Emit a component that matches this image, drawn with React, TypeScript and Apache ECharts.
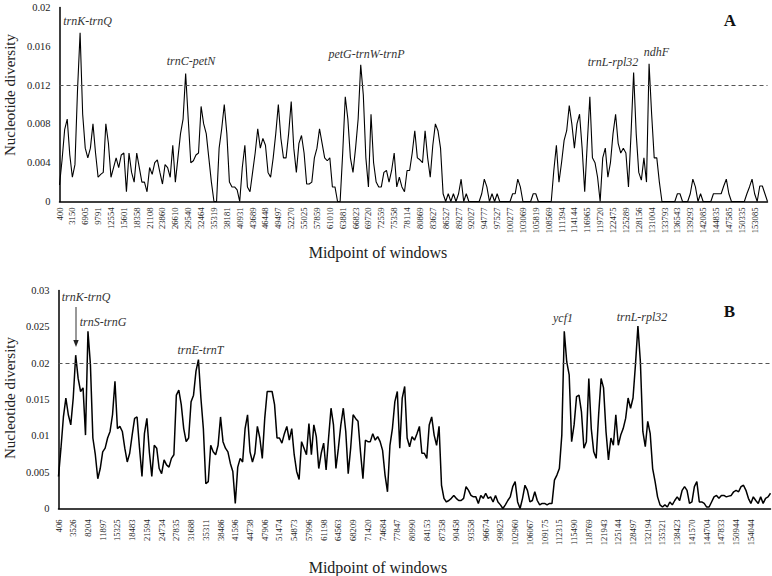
import React, { useEffect, useRef } from "react";
import * as echarts from "echarts";

const ticksA = ["400","3150","6905","9791","12554","15601","18358","21108","23860","26610","29540","32464","35319","38181","40931","43689","46448","49497","52270","55025","57859","61010","63881","66823","69720","72559","75358","78114","80869","83627","86527","89277","92027","94777","97527","100277","103069","105819","108569","111394","114144","116965","119720","122475","125289","128156","131004","133793","136543","139293","142085","144835","147585","150335","153085"];

const ticksB = ["406","3526","8204","11897","15325","18483","21594","24734","27835","31688","35311","38486","41596","44738","47906","51474","54873","57996","61198","64563","68209","71420","74684","77847","80990","84153","87358","90458","93558","96674","99825","102960","106067","109175","112315","115490","118769","121943","125144","128497","132194","135321","138423","141570","144704","147833","150944","154044"];

// samples per labelled interval
const stepA = 5;
const stepB = 6;

const diversityA = [
0.0017,0.0043,0.0074,0.0085,0.0048,
0.0025,0.0038,0.0115,0.0174,0.0090,
0.0055,0.0045,0.0055,0.0080,0.0050,
0.0025,0.0028,0.0030,0.0080,0.0060,
0.0025,0.0035,0.0045,0.0035,0.0048,
0.0050,0.0010,0.0050,0.0030,0.0020,
0.0050,0.0035,0.0020,0.0020,0.0010,
0.0035,0.0028,0.0040,0.0043,0.0030,
0.0018,0.0038,0.0035,0.0025,0.0058,
0.0020,0.0045,0.0070,0.0085,0.0132,
0.0085,0.0040,0.0042,0.0048,0.0050,
0.0098,0.0080,0.0070,0.0045,0.0020,
0,0,0.0055,0.0075,0.0100,
0.0070,0.0020,0.0015,0.0015,0.0012,
0,0.0035,0.0058,0.0015,0.0010,
0.0030,0.0050,0.0075,0.0055,0.0065,
0.0058,0.0030,0.0025,0.0045,0.0070,
0.0100,0.0065,0.0045,0.0045,0.0070,
0.0103,0.0055,0.0030,0.0060,0.0068,
0.0050,0.0018,0.0018,0.0020,0.0045,
0.0055,0.0075,0.0060,0.0045,0.0042,
0.0045,0.0015,0.0015,0,0,
0.0050,0.0108,0.0085,0.0045,0.0030,
0.0055,0.0085,0.0141,0.0110,0.0045,
0.0015,0.0090,0.0040,0.0020,0.0015,
0.0015,0.0030,0.0032,0.0020,0.0032,
0.0050,0.0015,0.0025,0.0015,0.0010,
0.0032,0.0032,0.0050,0.0073,0.0045,
0.0043,0.0040,0.0073,0.0045,0.0025,
0.0058,0.0080,0.0073,0.0055,0.0008,
0,0.0008,0,0.0008,0,
0.0008,0.0023,0,0.0008,0,
0,0,0,0,0.0008,
0.0023,0.0015,0,0.0008,0,
0.0008,0,0,0,0,
0,0.0008,0.0008,0.0023,0.0015,
0,0,0,0,0.0008,
0.0008,0,0,0,0,
0,0,0.0032,0.0058,0.0020,
0.0040,0.0063,0.0073,0.0099,0.0080,
0.0055,0.0080,0.0090,0.0055,0.0010,
0.0060,0.0108,0.0045,0.0040,0.0025,
0,0.0045,0.0055,0.0025,0.0040,
0.0070,0.0090,0.0060,0.0050,0.0055,
0.0050,0.0015,0.0070,0.0133,0.0070,
0.0030,0.0022,0.0045,0.0020,0.0142,
0.0090,0.0045,0.0045,0.0020,0,
0,0,0,0,0,
0.0008,0.0008,0,0,0,
0.0008,0.0023,0.0015,0,0.0008,
0,0,0,0,0.0008,
0.0008,0.0008,0.0008,0.0016,0.0023,
0.0008,0,0,0,0,
0,0,0.0008,0.0015,0.0023,
0.0008,0,0.0016,0.0016,0.0008,
0
];

const diversityB = [
0.0044,0.0083,0.0126,0.0152,0.0129,0.0115,
0.0152,0.0211,0.0179,0.0161,0.0166,0.0101,
0.0244,0.0198,0.0097,0.0074,0.0041,0.0055,
0.0078,0.0083,0.0097,0.0106,0.0129,0.0175,
0.0110,0.0113,0.0106,0.0083,0.0064,0.0076,
0.0101,0.0124,0.0126,0.0083,0.0044,0.0103,
0.0124,0.0078,0.0044,0.0087,0.0083,0.0055,
0.0048,0.0067,0.0060,0.0057,0.0069,0.0074,
0.0156,0.0163,0.0143,0.0110,0.0092,0.0097,
0.0147,0.0156,0.0189,0.0205,0.0152,0.0110,
0.0034,0.0037,0.0087,0.0078,0.0074,0.0087,
0.0126,0.0092,0.0083,0.0078,0.0062,0.0051,
0.0007,0.0057,0.0069,0.0064,0.0110,0.0129,
0.0078,0.0064,0.0076,0.0113,0.0097,0.0069,
0.0124,0.0161,0.0161,0.0161,0.0143,0.0097,
0.0097,0.0090,0.0103,0.0113,0.0094,0.0110,
0.0074,0.0051,0.0040,0.0092,0.0083,0.0074,
0.0117,0.0074,0.0115,0.0099,0.0055,0.0076,
0.0090,0.0053,0.0097,0.0138,0.0115,0.0055,
0.0083,0.0115,0.0138,0.0106,0.0048,0.0083,
0.0129,0.0124,0.0120,0.0078,0.0041,0.0094,
0.0092,0.0092,0.0103,0.0094,0.0099,0.0092,
0.0080,0.0046,0.0023,0.0087,0.0110,0.0147,
0.0161,0.0083,0.0152,0.0168,0.0097,0.0085,
0.0099,0.0094,0.0103,0.0113,0.0076,0.0076,
0.0069,0.0115,0.0126,0.0101,0.0087,0.0113,
0.0032,0.0014,0.0009,0.0011,0.0014,0.0018,
0.0014,0.0011,0.0011,0.0014,0.0030,0.0025,
0.0018,0.0016,0.0016,0.0007,0.0018,0.0014,
0.0021,0.0014,0.0016,0.0009,0.0018,0.0009,
0.0005,0,0.0005,0.0011,0.0016,0.0030,
0.0037,0.0009,0,0.0014,0.0032,0.0025,
0.0009,0.0011,0.0023,0.0011,0.0005,0.0007,
0.0007,0.0005,0.0007,0.0007,0.0039,0.0046,
0.0055,0.0101,0.0244,0.0202,0.0184,0.0092,
0.0115,0.0154,0.0156,0.0133,0.0083,0.0092,
0.0179,0.0110,0.0078,0.0069,0.0129,0.0179,
0.0166,0.0106,0.0067,0.0097,0.0087,0.0129,
0.0087,0.0101,0.0110,0.0124,0.0152,0.0138,
0.0152,0.0198,0.0251,0.0202,0.0106,0.0085,
0.0120,0.0103,0.0055,0.0037,0.0016,0.0005,
0.0002,0.0005,0.0002,0.0009,0.0005,0.0011,
0.0016,0.0011,0.0025,0.0030,0.0025,0.0007,
0.0009,0.0030,0.0037,0.0009,0.0009,0.0007,
0.0002,0.0002,0.0009,0.0016,0.0018,0.0014,
0.0018,0.0018,0.0016,0.0017,0.0018,0.0023,
0.0025,0.0023,0.0030,0.0032,0.0025,0.0014,
0.0007,0.0016,0.0011,0.0007,0.0016,0.0007,
0.0014,0.0016,0.0021
];

const thresholdA = 0.012;
const thresholdB = 0.02;

const labelsA = [
  { text: "trnK-trnQ", x: 87.5, y: 21 },
  { text: "trnC-petN", x: 191, y: 61 },
  { text: "petG-trnW-trnP", x: 366.5, y: 54 },
  { text: "trnL-rpl32", x: 613, y: 62 },
  { text: "ndhF", x: 656.5, y: 52 },
];
const labelsB = [
  { text: "trnK-trnQ", x: 86, y: 297 },
  { text: "trnS-trnG", x: 103, y: 322 },
  { text: "trnE-trnT", x: 200.5, y: 350 },
  { text: "ycf1", x: 563, y: 318 },
  { text: "trnL-rpl32", x: 642, y: 317 },
];

const FONT = '"Liberation Serif", "Times New Roman", serif';

export default function App() {
  const ref = useRef<HTMLDivElement>(null);
  useEffect(() => {
    if (!ref.current) return;
    const chart = echarts.init(ref.current, null, { renderer: "svg" });
    const maxA = (diversityA.length - 1) / stepA;
    const maxB = (diversityB.length - 1) / stepB;
    const xAxisCommon = (ticks: string[], max: number, grid: number, margin: number) => ({
      type: "value",
      gridIndex: grid,
      min: 0,
      max,
      interval: 1,
      axisLine: { show: true, onZero: false, lineStyle: { color: "#000", width: 1.5 } },
      axisTick: { show: false },
      splitLine: { show: false },
      axisLabel: {
        rotate: 90,
        margin,
        fontSize: 8.6,
        color: "#222",
        fontFamily: FONT,
        showMinLabel: true,
        showMaxLabel: true,
        formatter: (v: number) => (Number.isInteger(v) ? ticks[v] ?? "" : ""),
      },
    });
    const yAxisCommon = (grid: number, max: number, interval: number) => ({
      type: "value",
      gridIndex: grid,
      min: 0,
      max,
      interval,
      axisLine: { show: true, lineStyle: { color: "#000", width: 1.5 } },
      axisTick: { show: false },
      splitLine: { show: false },
      axisLabel: { margin: 9, fontSize: 10.5, color: "#222", fontFamily: FONT },
    });
    const mkText = (t: { text: string; x: number; y: number }) => ({
      type: "text",
      x: t.x,
      y: t.y,
      style: {
        text: t.text,
        fontStyle: "italic",
        fontSize: 12,
        fontFamily: FONT,
        fill: "#333",
        textAlign: "center",
        textVerticalAlign: "middle",
      },
    });
    const plainText = (text: string, x: number, y: number, size: number, extra: any = {}) => ({
      type: "text",
      x,
      y,
      ...extra,
      style: {
        text,
        fontSize: size,
        fontFamily: FONT,
        fill: "#222",
        textAlign: "center",
        textVerticalAlign: "middle",
        ...(extra.style || {}),
      },
    });
    const markLine = (y: number) => ({
      silent: true,
      precision: 6,
      symbol: ["none", "none"],
      label: { show: false },
      lineStyle: { color: "#555", type: [4, 3], width: 1 },
      data: [{ yAxis: y }],
    });
    chart.setOption({
      animation: false,
      backgroundColor: "#fff",
      grid: [
        { left: 59.5, top: 7.5, width: 708, height: 194, outerBoundsMode: "none" },
        { left: 58.5, top: 290.5, width: 712, height: 218, outerBoundsMode: "none" },
      ],
      xAxis: [xAxisCommon(ticksA, maxA, 0, 6), xAxisCommon(ticksB, maxB, 1, 11)],
      yAxis: [yAxisCommon(0, 0.02, 0.004), yAxisCommon(1, 0.03, 0.005)],
      series: [
        {
          type: "line",
          xAxisIndex: 0,
          yAxisIndex: 0,
          data: diversityA.map((v, j) => [j / stepA, v]),
          showSymbol: false,
          symbol: "none",
          lineStyle: { color: "#000", width: 1.1 },
          markLine: markLine(thresholdA),
        },
        {
          type: "line",
          xAxisIndex: 1,
          yAxisIndex: 1,
          data: diversityB.map((v, j) => [j / stepB, v]),
          showSymbol: false,
          symbol: "none",
          lineStyle: { color: "#000", width: 1.5 },
          markLine: markLine(thresholdB),
        },
      ],
      graphic: [
        ...labelsA.map(mkText),
        ...labelsB.map(mkText),
        plainText("A", 730, 20, 17, { style: { fontWeight: "bold", fill: "#111" } }),
        plainText("B", 729.5, 311, 17, { style: { fontWeight: "bold", fill: "#111" } }),
        plainText("Nucleotide diversity", 9.5, 95, 15, { rotation: Math.PI / 2 }),
        plainText("Nucleotide diversity", 9.5, 398, 15, { rotation: Math.PI / 2 }),
        plainText("Midpoint of windows", 378, 252, 16),
        plainText("Midpoint of windows", 378, 567, 16),
        {
          type: "line",
          shape: { x1: 76, y1: 307, x2: 76, y2: 342 },
          style: { stroke: "#333", lineWidth: 1 },
        },
        {
          type: "polygon",
          shape: { points: [[73.3, 340], [78.7, 340], [76, 347]] },
          style: { fill: "#222" },
        },
      ],
    });
    return () => chart.dispose();
  }, []);
  return (
    <div
      ref={ref}
      style={{ position: "fixed", left: 0, top: 0, width: 772, height: 576, background: "#fff" }}
    />
  );
}
